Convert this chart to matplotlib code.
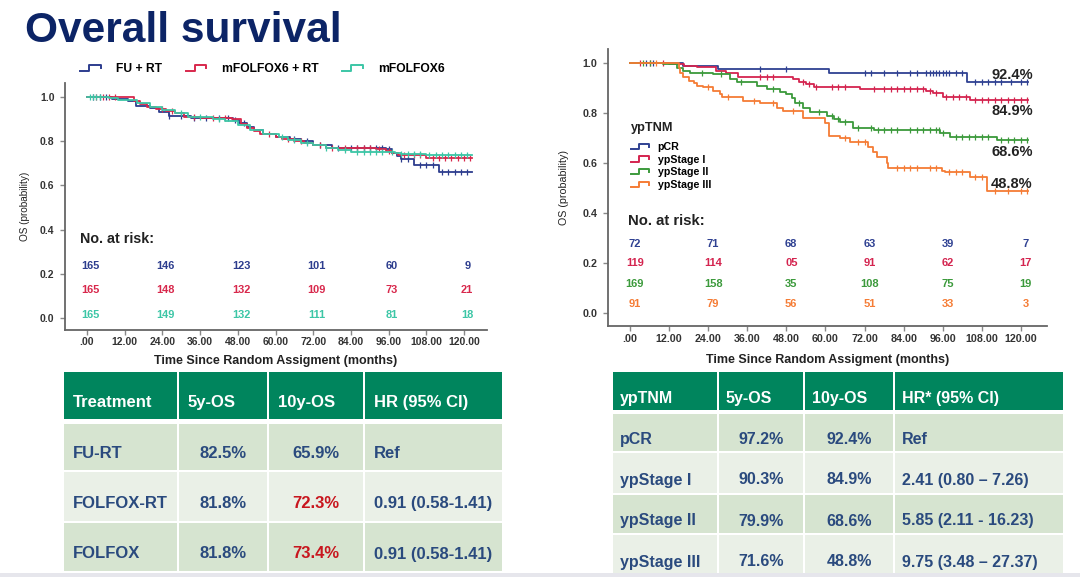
import numpy as np
import matplotlib.pyplot as plt
from matplotlib.patches import Rectangle
from matplotlib.lines import Line2D
from matplotlib.legend_handler import HandlerBase

plt.rcParams['font.family'] = ['Liberation Sans', 'DejaVu Sans']

# ---------------- data: left panel (treatment arms) ----------------
fu_t = [0, 8, 13, 15.5, 20, 23, 26, 33, 46.5, 48.5, 51, 53, 56, 60, 64.5, 68, 72, 78,
        95, 97, 98.5, 100, 104, 112, 122.5]
fu_s = [1.0, 0.99, 0.98, 0.96, 0.95, 0.93, 0.915, 0.905, 0.895, 0.88, 0.865, 0.85, 0.83,
        0.82, 0.81, 0.80, 0.78, 0.77, 0.765, 0.745, 0.73, 0.72, 0.69, 0.66, 0.66]
fu_cens = [2, 4, 6, 26, 30, 34, 38, 42, 45, 47, 50, 66, 70, 74, 80, 84, 86, 88, 90, 92, 94,
           96, 100, 102, 106, 108, 110, 113, 115, 117, 119, 121]

rt_t = [0, 15, 17, 19, 22, 25, 28, 31, 36, 46, 49, 51, 53, 55, 60, 62, 66, 69, 72, 76,
        92, 95, 97, 99, 108, 122.5]
rt_s = [1.0, 0.98, 0.965, 0.955, 0.945, 0.935, 0.925, 0.91, 0.905, 0.90, 0.875, 0.86,
        0.845, 0.83, 0.82, 0.81, 0.80, 0.79, 0.78, 0.77, 0.765, 0.755, 0.745, 0.735,
        0.725, 0.725]
rt_cens = [3, 5, 7, 9, 24, 27, 34, 40, 44, 58, 64, 68, 74, 78, 82, 86, 88, 90, 93, 96, 101,
           104, 106, 110, 112, 114, 116, 118, 120, 122]

fx_t = [0, 7, 10, 16, 20, 24, 28, 32, 40, 44, 48, 52, 56, 61, 64, 68, 72, 76, 80, 84, 98,
        100, 108, 122.5]
fx_s = [1.0, 0.995, 0.985, 0.97, 0.955, 0.94, 0.925, 0.91, 0.90, 0.89, 0.87, 0.85, 0.83,
        0.82, 0.805, 0.79, 0.78, 0.77, 0.76, 0.75, 0.745, 0.74, 0.735, 0.735]
fx_cens = [1, 2, 3, 4, 30, 36, 42, 62, 66, 70, 76, 82, 86, 88, 90, 92, 94, 97, 100, 102, 104,
           106, 109, 111, 113, 115, 117, 119, 121]

left_names = ['FU + RT', 'mFOLFOX6 + RT', 'mFOLFOX6']
left_colors = ['#2d3d8e', '#d8284c', '#3cc6a6']
left_risk = [['165', '146', '123', '101', '60', '9'],
             ['165', '148', '132', '109', '73', '21'],
             ['165', '149', '132', '111', '81', '18']]

# ---------------- data: right panel (ypTNM) ----------------
pcr_t = [0, 16.4, 27, 61, 103.4, 122.3]
pcr_s = [1.0, 0.99, 0.977, 0.96, 0.924, 0.924]
pcr_cens = [5, 7, 40, 48, 72, 74, 78, 82, 86, 88, 91, 92, 93, 94, 95, 96, 97, 98, 100, 102,
            106, 108, 110, 112, 114, 117, 120, 122]

st1_t = [0, 12, 16.5, 20.5, 26.5, 29.5, 33, 50, 52, 54, 56.5, 70.5, 91, 93, 96, 104.4, 122.3]
st1_s = [1.0, 0.995, 0.99, 0.985, 0.97, 0.96, 0.944, 0.935, 0.925, 0.915, 0.904, 0.895,
         0.89, 0.88, 0.865, 0.851, 0.851]
st1_cens = [3, 6, 10, 40, 42, 44, 53, 55, 57, 62, 64, 66, 75, 78, 80, 82, 84, 86, 88, 90, 92,
            94, 97, 99, 101, 103, 106, 108, 110, 112, 114, 116, 118, 120, 122]

st2_t = [0, 10, 14.3, 16.4, 18.5, 25.6, 30.7, 32.8, 38.9, 42, 46, 48, 49.7, 50.7, 53.2, 55.3,
         60.4, 62.5, 64.5, 68.6, 75, 95.2, 98.3, 112.6, 122.3]
st2_s = [1.0, 0.995, 0.98, 0.97, 0.962, 0.955, 0.935, 0.924, 0.91, 0.895, 0.885, 0.875, 0.86,
         0.84, 0.82, 0.805, 0.79, 0.775, 0.765, 0.742, 0.734, 0.72, 0.705, 0.691, 0.691]
st2_cens = [4, 6, 22, 28, 34, 44, 52, 58, 62, 64, 66, 70, 74, 76, 78, 80, 82, 86, 88, 90, 92,
            94, 95, 96, 100, 102, 104, 106, 108, 110, 114, 116, 118, 120, 122]

st3_t = [0, 15, 15.5, 16.4, 18, 19.5, 20.5, 22.5, 25.6, 27.6, 28.3, 34.8, 40, 45, 47, 53.2,
         59.9, 61, 64.5, 67.6, 73.2, 74.7, 75.8, 78.8, 79.3, 95.7, 96.8, 104.4, 109.6, 122.3]
st3_s = [1.0, 0.98, 0.96, 0.945, 0.93, 0.92, 0.91, 0.905, 0.89, 0.875, 0.864, 0.85, 0.84,
         0.82, 0.809, 0.782, 0.76, 0.707, 0.70, 0.685, 0.665, 0.645, 0.625, 0.60, 0.582,
         0.57, 0.565, 0.543, 0.489, 0.489]
st3_cens = [8, 24, 30, 38, 44, 50, 66, 70, 72, 82, 84, 86, 88, 92, 94, 98, 100, 102, 106,
            108, 112, 116, 120, 122]

right_names = ['pCR', 'ypStage I', 'ypStage II', 'ypStage III']
right_colors = ['#2f4192', '#d4244f', '#3c9a3c', '#f57c35']
right_risk = [['72', '71', '68', '63', '39', '7'],
              ['119', '114', '05', '91', '62', '17'],
              ['169', '158', '35', '108', '75', '19'],
              ['91', '79', '56', '51', '33', '3']]
right_final = ['92.4%', '84.9%', '68.6%', '48.8%']

risk_times = [0, 24, 48, 72, 96, 120]
x_ticks = [0, 12, 24, 36, 48, 60, 72, 84, 96, 108, 120]
x_ticklabels = ['.00', '12.00', '24.00', '36.00', '48.00', '60.00', '72.00', '84.00',
                '96.00', '108.00', '120.00']

# ---------------- data: tables ----------------
left_header = ['Treatment', '5y-OS', '10y-OS', 'HR (95% CI)']
left_rows = [['FU-RT', '82.5%', '65.9%', 'Ref'],
             ['FOLFOX-RT', '81.8%', '72.3%', '0.91 (0.58-1.41)'],
             ['FOLFOX', '81.8%', '73.4%', '0.91 (0.58-1.41)']]
left_red = [(1, 2), (2, 2)]

right_header = ['ypTNM', '5y-OS', '10y-OS', 'HR* (95% CI)']
right_rows = [['pCR', '97.2%', '92.4%', 'Ref'],
              ['ypStage I', '90.3%', '84.9%', '2.41 (0.80 \u2013 7.26)'],
              ['ypStage II', '79.9%', '68.6%', '5.85 (2.11 - 16.23)'],
              ['ypStage III', '71.6%', '48.8%', '9.75 (3.48 \u2013 27.37)']]

W, H = 1080, 577
fig = plt.figure(figsize=(W / 100, H / 100), dpi=100)


def px_axes(x0, y0, x1, y1):
    return fig.add_axes([x0 / W, 1 - y1 / H, (x1 - x0) / W, (y1 - y0) / H])


class StepHandler(HandlerBase):
    def create_artists(self, legend, orig_handle, xdescent, ydescent, width, height,
                       fontsize, trans):
        x0, y0 = -xdescent, -ydescent
        xs = np.array([0, 0.4, 0.4, 0.95, 0.95]) * width + x0
        ys = np.array([0.15, 0.15, 0.85, 0.85, 0.45]) * height + y0
        ln = Line2D(xs, ys, color=orig_handle.get_color(), lw=1.4, transform=trans)
        return [ln]


def km(ax, t, s, cens, color):
    ax.step(t, s, where='post', color=color, lw=1.3)
    idx = np.searchsorted(t, cens, side='right') - 1
    ax.plot(cens, np.array(s)[idx], ls='none', marker='|', ms=4, mew=0.9, color=color)


def style_axes(ax, xlim, ylim, lab_size, xpad):
    ax.set_xlim(*xlim)
    ax.set_ylim(*ylim)
    for sp in ['top', 'right']:
        ax.spines[sp].set_visible(False)
    for sp in ['left', 'bottom']:
        ax.spines[sp].set_color('#666666')
        ax.spines[sp].set_linewidth(1.3)
    ax.set_xticks(x_ticks)
    ax.set_xticklabels(x_ticklabels)
    ax.set_yticks([0, 0.2, 0.4, 0.6, 0.8, 1.0])
    ax.set_yticklabels(['0.0', '0.2', '0.4', '0.6', '0.8', '1.0'])
    ax.tick_params(length=3.5, width=1, color='#888888', labelsize=lab_size,
                   labelcolor='#333333', pad=4)
    ax.tick_params(axis='x', pad=xpad)
    for lb in ax.get_xticklabels() + ax.get_yticklabels():
        lb.set_fontweight('bold')
    ax.set_facecolor('none')


# ---------------- left survival panel ----------------
axL = px_axes(65, 83, 487, 330)
style_axes(axL, (-7, 127.3), (-0.054, 1.062), 7.5, 1.5)
handles = []
for t, s, c, col in zip([fu_t, rt_t, fx_t], [fu_s, rt_s, fx_s],
                        [fu_cens, rt_cens, fx_cens], left_colors):
    km(axL, t, s, c, col)
    handles.append(Line2D([], [], color=col))
axL.set_xlabel('Time Since Random Assigment (months)', fontsize=9, fontweight='bold',
               color='#222222', labelpad=6)
axL.set_ylabel('OS (probability)', fontsize=7.2, color='#222222', labelpad=7)
axL.text(-2.2, 0.357, 'No. at risk:', fontsize=10.3, fontweight='bold', color='#222222',
         va='center', ha='left')
for r, (row, col) in enumerate(zip(left_risk, left_colors)):
    for tt, v in zip(risk_times, row):
        axL.text(tt + 1, [0.235, 0.127, 0.014][r], v, fontsize=7.9, fontweight='bold',
                 color=col, ha='center', va='center')
fig.legend(handles, left_names, loc='center left', bbox_to_anchor=(80 / W, 1 - 69 / H),
           ncol=3, frameon=False, borderpad=0, borderaxespad=0, handlelength=1.8,
           handletextpad=1.2, columnspacing=1.95,
           prop={'size': 8.7, 'weight': 'bold'}, handler_map={Line2D: StepHandler()})

# ---------------- right survival panel ----------------
axR = px_axes(608, 49, 1047, 326)
style_axes(axR, (-6.75, 128), (-0.052, 1.056), 7.7, 2.5)
handles = []
for t, s, c, col in zip([pcr_t, st1_t, st2_t, st3_t], [pcr_s, st1_s, st2_s, st3_s],
                        [pcr_cens, st1_cens, st2_cens, st3_cens], right_colors):
    km(axR, t, s, c, col)
    handles.append(Line2D([], [], color=col))
axR.set_xlabel('Time Since Random Assigment (months)', fontsize=9, fontweight='bold',
               color='#222222', labelpad=7)
axR.set_ylabel('OS (probability)', fontsize=7.7, color='#222222', labelpad=10)
axR.text(-0.5, 0.368, 'No. at risk:', fontsize=10.7, fontweight='bold', color='#222222',
         va='center', ha='left')
for r, (row, col) in enumerate(zip(right_risk, right_colors)):
    for tt, v in zip(risk_times, row):
        axR.text(tt + 1.5, [0.277, 0.199, 0.117, 0.036][r], v, fontsize=8,
                 fontweight='bold', color=col, ha='center', va='center')
for lab, yy in zip(right_final, [0.952, 0.808, 0.644, 0.516]):
    axR.text(123.6, yy, lab, fontsize=10.5, fontweight='bold', color='#222222',
             ha='right', va='center')
fig.text(631 / W, 1 - 128 / H, 'ypTNM', fontsize=9.2, fontweight='bold', color='#222222',
         ha='left', va='center')
axR.legend(handles, right_names, loc='upper left',
           bbox_to_anchor=(631 / W, 1 - 142 / H), bbox_transform=fig.transFigure,
           frameon=False, borderpad=0, borderaxespad=0, handlelength=1.8,
           handletextpad=0.7, labelspacing=0.25,
           prop={'size': 7.7, 'weight': 'bold'}, handler_map={Line2D: StepHandler()})

# ---------------- overlay: title and tables ----------------
axT = fig.add_axes([0, 0, 1, 1], zorder=-1)
axT.set_xlim(0, W)
axT.set_ylim(H, 0)
axT.axis('off')

axT.text(25, 42, 'Overall survival', fontsize=30.5, fontweight='bold', color='#0c2466',
         ha='left', va='baseline')

green = '#00855d'
row_fill = ['#d6e4d0', '#eaf0e7']
body_col = '#2a4a7e'
red_col = '#c8161e'


def draw_table(cols, rows_y, header, rows, size, pad, red_cells):
    gap = 1.0
    y0, y1 = rows_y[0]
    for j in range(len(cols) - 1):
        axT.add_patch(Rectangle((cols[j] + gap, y0), cols[j + 1] - cols[j] - 2 * gap,
                                y1 - y0, color=green, lw=0))
        axT.text(cols[j] + pad, (y0 + y1) / 2 + 7, header[j], fontsize=size,
                 fontweight='bold', color='white', ha='left', va='center')
    for i, row in enumerate(rows):
        y0, y1 = rows_y[i + 1]
        for j in range(len(cols) - 1):
            axT.add_patch(Rectangle((cols[j] + gap, y0 + gap),
                                    cols[j + 1] - cols[j] - 2 * gap, y1 - y0 - 2 * gap,
                                    color=row_fill[i % 2], lw=0))
            c = red_col if (i, j) in red_cells else body_col
            if j in (1, 2):
                xx, ha = (cols[j] + cols[j + 1]) / 2, 'center'
            else:
                xx, ha = cols[j] + pad, 'left'
            axT.text(xx, (y0 + y1) / 2 + 7, row[j], fontsize=size, fontweight='bold',
                     color=c, ha=ha, va='center')


draw_table([63, 178, 268, 364, 503],
           [(372, 419), (423, 471), (471, 522), (522, 572)],
           left_header, left_rows, 12, 10, left_red)
draw_table([612, 718, 804, 894, 1064],
           [(372, 410), (413, 452), (452, 494), (494, 534), (534, 576)],
           right_header, right_rows, 11.5, 8, [])
axT.add_patch(Rectangle((0, 573), W, 4, color='#e6e6ec', lw=0))

fig.savefig('out.png', dpi=100)
